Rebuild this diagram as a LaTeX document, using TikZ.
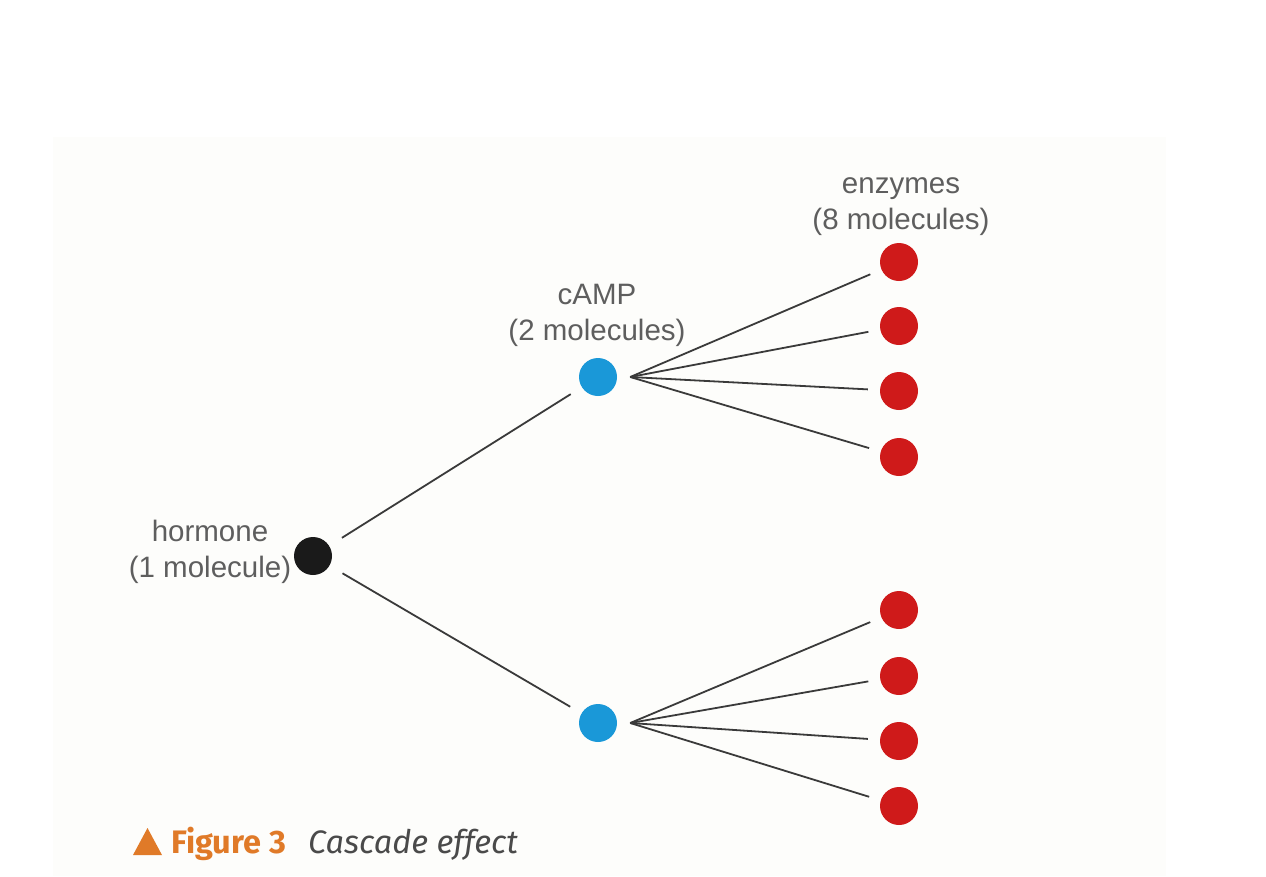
\documentclass[tikz,border=0pt]{standalone}
\usepackage{fontspec}
\setmainfont{Liberation Sans}
\newfontfamily\capfont{Fira Sans}
\definecolor{panelbg}{HTML}{FDFDFB}
\definecolor{labelgray}{HTML}{5E5E5E}
\definecolor{linegray}{HTML}{3A3A3A}
\definecolor{campblue}{HTML}{1A98D8}
\definecolor{enzred}{HTML}{CF1A1A}
\definecolor{hormblack}{HTML}{1A1A1A}
\definecolor{caporange}{HTML}{E07A28}
\definecolor{capgray}{HTML}{4A4A4A}
\begin{document}
\begin{tikzpicture}[x=1pt,y=-1pt,
  dot/.style={circle,minimum size=38pt,inner sep=0pt},
  hormdot/.style={dot,fill=hormblack},
  campdot/.style={dot,fill=campblue},
  enzdot/.style={dot,fill=enzred},
  lbl/.style={text=labelgray,align=center,font=\fontsize{29.5}{36}\selectfont,inner sep=0pt},
  link/.style={draw=linegray,line width=1.8pt,shorten <=15pt,shorten >=13pt},
  fan/.style={draw=linegray,line width=1.8pt,shorten >=12pt}]
\useasboundingbox (0,0) rectangle (1266,876);
\fill[panelbg] (53,137) rectangle (1166,876);
% dots
\node[hormdot] (h) at (313,556) {};
\node[campdot] (c1) at (598,377) {};
\node[campdot] (c2) at (598,723) {};
\foreach \i/\y in {1/262,2/326,3/391,4/457,5/610,6/676,7/741,8/806}
  \node[enzdot] (e\i) at (899,\y) {};
% labels (base = baseline of last line)
\node[lbl,anchor=base] (hl) at (210,577) {hormone\\(1 molecule)};
\node[lbl,anchor=base] (cl) at (597,340) {cAMP\\(2 molecules)};
\node[lbl,anchor=base] (el) at (901,229) {enzymes\\(8 molecules)};
% connectors
\draw[link] (h) -- (c1);
\draw[link] (h) -- (c2);
\coordinate (t1) at ([xshift=13pt]c1.east);
\coordinate (t2) at ([xshift=13pt]c2.east);
\foreach \i in {1,2,3,4} \draw[fan] (t1) -- (e\i);
\foreach \i in {5,6,7,8} \draw[fan] (t2) -- (e\i);
% caption
\coordinate (tri) at (133,855);
\fill[caporange] (tri) -- ++(29,0) -- ++(-14.5,-27) -- cycle;
\node[anchor=base west,inner sep=0pt,text=caporange,font=\capfont\bfseries\fontsize{32.5}{36}\selectfont] (fig) at (171,853) {Figure 3};
\node[anchor=base west,inner sep=0pt,text=capgray,font=\capfont\itshape\fontsize{32.5}{36}\selectfont] (cap) at (308,853) {Cascade effect};
\end{tikzpicture}
\end{document}
